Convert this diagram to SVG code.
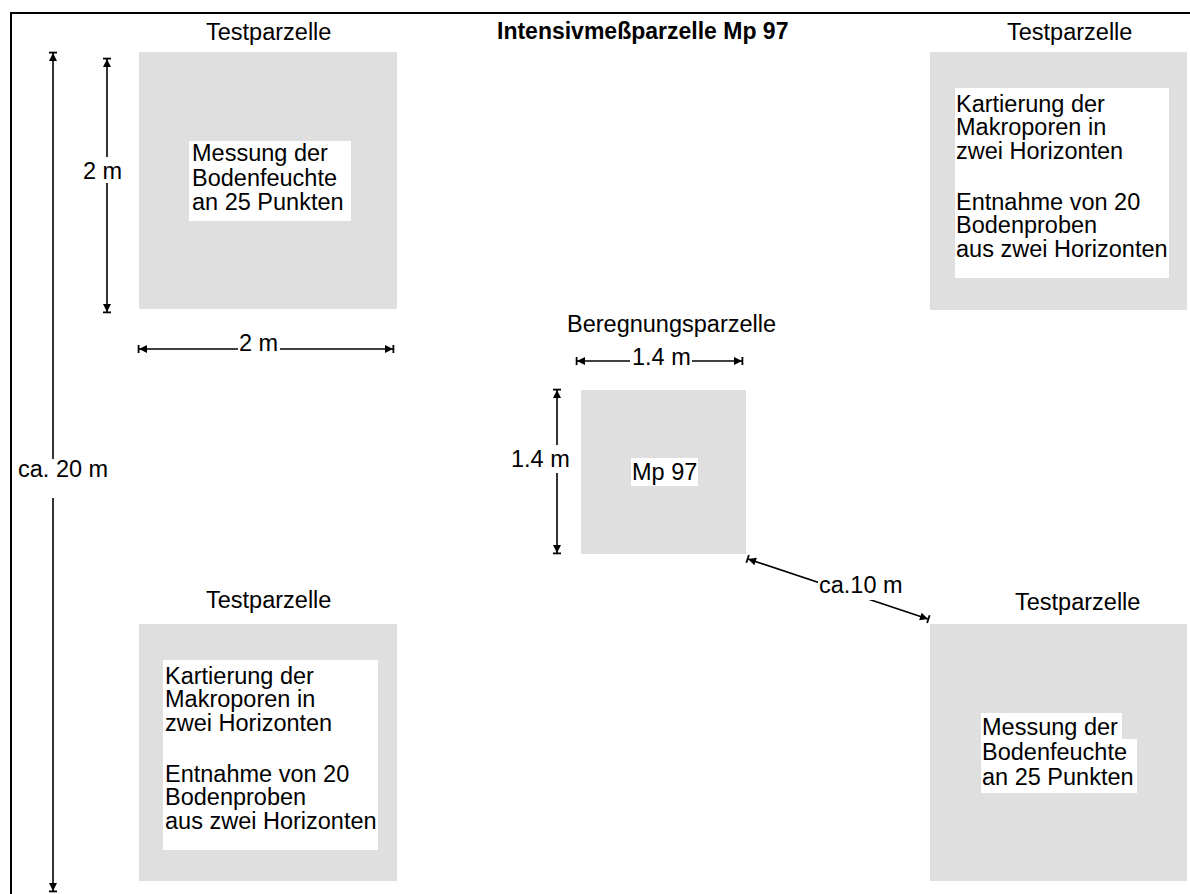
<svg xmlns="http://www.w3.org/2000/svg" width="1190" height="894" viewBox="0 0 1190 894">
<style>
text{font-family:"Liberation Sans",Arial,sans-serif;font-size:23.5px;fill:#000}
.title{font-weight:bold;font-size:23px}
.plot{fill:#dfdfdf}
.bg{fill:#fff}
.dim{stroke:#000;stroke-width:1.6;fill:none;marker-start:url(#tick);marker-end:url(#tick)}
</style>
<defs>
<marker id="tick" viewBox="-10 -5 12 10" refX="0" refY="0" markerWidth="12" markerHeight="10" markerUnits="userSpaceOnUse" orient="auto-start-reverse">
<path d="M0,0 L-8,-4 L-8,4 Z" fill="#000"/>
<rect x="-0.5" y="-4" width="1.8" height="8" fill="#000"/>
</marker>
</defs>
<rect width="1190" height="894" fill="#fff"/>
<path d="M11,894 V13 H1190" fill="none" stroke="#000" stroke-width="2"/>
<text class="title" x="497" y="39">Intensivmeßparzelle Mp 97</text>

<g id="plot-top-left">
<text x="206" y="40">Testparzelle</text>
<rect class="plot" x="139" y="52" width="258" height="257"/>
<rect class="bg" x="189" y="141" width="162" height="80"/>
<text x="192" y="161">Messung der</text>
<text x="192" y="185.5">Bodenfeuchte</text>
<text x="192" y="210">an 25 Punkten</text>
</g>

<g id="plot-top-right">
<text x="1007" y="40">Testparzelle</text>
<rect class="plot" x="930" y="52" width="257" height="258"/>
<rect class="bg" x="955" y="88" width="214" height="190"/>
<text x="956" y="111.5">Kartierung der</text>
<text x="956" y="135">Makroporen in</text>
<text x="956" y="158.5">zwei Horizonten</text>
<text x="956" y="209.5">Entnahme von 20</text>
<text x="956" y="233">Bodenproben</text>
<text x="956" y="256.5">aus zwei Horizonten</text>
</g>

<g id="plot-center">
<text x="567" y="332">Beregnungsparzelle</text>
<rect class="plot" x="581" y="390" width="165" height="164"/>
<rect class="bg" x="631" y="458" width="67" height="28"/>
<text x="632" y="480">Mp 97</text>
</g>

<g id="plot-bottom-left">
<text x="206" y="608">Testparzelle</text>
<rect class="plot" x="139" y="624" width="258" height="257"/>
<rect class="bg" x="163" y="660" width="215" height="190"/>
<text x="165" y="683.5">Kartierung der</text>
<text x="165" y="707">Makroporen in</text>
<text x="165" y="730.5">zwei Horizonten</text>
<text x="165" y="781.5">Entnahme von 20</text>
<text x="165" y="805">Bodenproben</text>
<text x="165" y="828.5">aus zwei Horizonten</text>
</g>

<g id="plot-bottom-right">
<text x="1015" y="610">Testparzelle</text>
<rect class="plot" x="930" y="624" width="257" height="257"/>
<rect class="bg" x="981" y="713" width="141" height="26"/>
<rect class="bg" x="981" y="739" width="156" height="54"/>
<text x="982" y="735">Messung der</text>
<text x="982" y="760">Bodenfeuchte</text>
<text x="982" y="785">an 25 Punkten</text>
</g>

<g id="connectors">
<line class="dim" x1="53" y1="53" x2="53" y2="891"/>
<line class="dim" x1="107" y1="59" x2="107" y2="312"/>
<line class="dim" x1="139" y1="349" x2="393" y2="349"/>
<line class="dim" x1="577" y1="361" x2="742" y2="361"/>
<line class="dim" x1="557" y1="390" x2="557" y2="553"/>
<line class="dim" x1="748" y1="559" x2="928" y2="619"/>
</g>

<g id="dimension-labels">
<rect class="bg" x="16" y="459" width="94" height="39"/>
<text x="18" y="477">ca. 20 m</text>
<rect class="bg" x="81" y="157" width="42" height="26"/>
<text x="83" y="179">2 m</text>
<rect class="bg" x="238" y="334" width="42" height="19"/>
<text x="239" y="351">2 m</text>
<rect class="bg" x="630" y="347" width="62" height="19"/>
<text x="632" y="365">1.4 m</text>
<rect class="bg" x="510" y="445" width="60" height="28"/>
<text x="511" y="467">1.4 m</text>
<rect class="bg" x="818" y="574" width="86" height="26"/>
<text x="819" y="593">ca.10 m</text>
</g>
</svg>
